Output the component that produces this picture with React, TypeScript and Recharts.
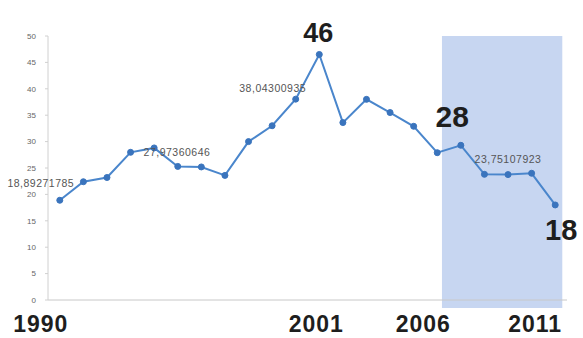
import React from 'react';
import { LineChart, Line, XAxis, YAxis, ReferenceArea, LabelList } from 'recharts';

const years = [1990, 1991, 1992, 1993, 1994, 1995, 1996, 1997, 1998, 1999, 2000, 2001, 2002, 2003, 2004, 2005, 2006, 2007, 2008, 2009, 2010, 2011];
const values = [18.89, 22.4, 23.2, 27.97, 28.8, 25.3, 25.2, 23.6, 30.0, 33.0, 38.04, 46.5, 33.6, 38.0, 35.5, 32.9, 27.9, 29.3, 23.8, 23.75, 24.0, 18.0];
const yTicks = [0, 5, 10, 15, 20, 25, 30, 35, 40, 45, 50];
const yearTickLabels = [1990, 2001, 2006, 2011];
const smallNoteYears = [1990, 1993, 2000, 2009];
const smallNoteTexts = ['18,89271785', '27,97360646', '38,04300935', '23,75107923'];
const bigNoteYears = [2001, 2006, 2011];
const bigNoteTexts = ['46', '28', '18'];
const highlightFrom = 2006.2;
const highlightTo = 2011.3;

const data = years.map((year, i) => ({ year, value: values[i] }));
const bandTicks = [...years.map((y) => y - 0.5), 2011.5];

const smallPlace: Record<number, { dx: number; dy: number; anchor: string }> = {
  1990: { dx: -19, dy: -17, anchor: 'middle' },
  1993: { dx: 13, dy: 0, anchor: 'start' },
  2000: { dx: -23, dy: -11, anchor: 'middle' },
  2009: { dx: 0, dy: -16, anchor: 'middle' },
};
const bigPlace: Record<number, { dx: number; dy: number; size: number }> = {
  2001: { dx: -1, dy: -21, size: 27 },
  2006: { dx: 15, dy: -36, size: 30 },
  2011: { dx: 6, dy: 25, size: 29 },
};

const renderNote = (props: any) => {
  const { x, y, index } = props;
  const year = years[index];
  const si = smallNoteYears.indexOf(year);
  const bi = bigNoteYears.indexOf(year);
  const out: React.ReactNode[] = [];
  if (si >= 0) {
    const p = smallPlace[year];
    out.push(
      <text key="s" x={x + p.dx} y={y + p.dy} textAnchor={p.anchor as any} dominantBaseline="central"
        fontSize={10.5} letterSpacing={0.5} fill="#555" fontFamily="Liberation Sans, Arial, sans-serif">
        {smallNoteTexts[si]}
      </text>
    );
  }
  if (bi >= 0) {
    const p = bigPlace[year];
    out.push(
      <text key="b" x={x + p.dx} y={y + p.dy} textAnchor="middle" dominantBaseline="central"
        fontSize={p.size} fontWeight="bold" fill="#1e1e1e" fontFamily="Liberation Sans, Arial, sans-serif">
        {bigNoteTexts[bi]}
      </text>
    );
  }
  return <g>{out}</g>;
};

const yearDx: Record<number, number> = { 1990: -19, 2001: -3, 2006: -14, 2011: -20 };

const YearTick = (props: any) => {
  const { x, y, payload } = props;
  const v = payload.value;
  return (
    <text x={x + (yearDx[v] ?? 0)} y={y + 8} textAnchor="middle" dominantBaseline="central"
      fontSize={23} letterSpacing={1} fontWeight="bold" fill="#1e1e1e" fontFamily="Liberation Sans, Arial, sans-serif">
      {v}
    </text>
  );
};

export default function App() {
  return (
    <div style={{ position: 'absolute', left: 0, top: 0, width: 583, height: 338, background: '#fff' }}>
      <LineChart width={583} height={338} data={data} margin={{ top: 36, right: 16, left: 0, bottom: 0 }}>
        <ReferenceArea x1={highlightFrom} x2={highlightTo} y1={-1.5} y2={50} ifOverflow="visible"
          fill="#a9c0ea" fillOpacity={0.65} stroke="none" />
        <XAxis dataKey="year" type="number" domain={[1989.5, 2011.5]} ticks={bandTicks}
          tick={false} tickSize={3} stroke="#c8c8c8" height={8} />
        <XAxis xAxisId="labels" dataKey="year" type="number" domain={[1989.5, 2011.5]}
          ticks={yearTickLabels} axisLine={false} tickLine={false} tick={<YearTick />} height={30} />
        <YAxis type="number" domain={[0, 50]} ticks={yTicks} width={48} stroke="#d0d0d0"
          tickSize={3} tickMargin={9} tick={{ fontSize: 8, fill: '#666', fontFamily: 'Liberation Sans, Arial, sans-serif' }} />
        <Line dataKey="value" stroke="#4a86cc" strokeWidth={2} isAnimationActive={false}
          dot={{ r: 3, fill: '#3a74bd', stroke: '#3a74bd', strokeWidth: 1 }}>
          <LabelList dataKey="value" content={renderNote} />
        </Line>
      </LineChart>
    </div>
  );
}
